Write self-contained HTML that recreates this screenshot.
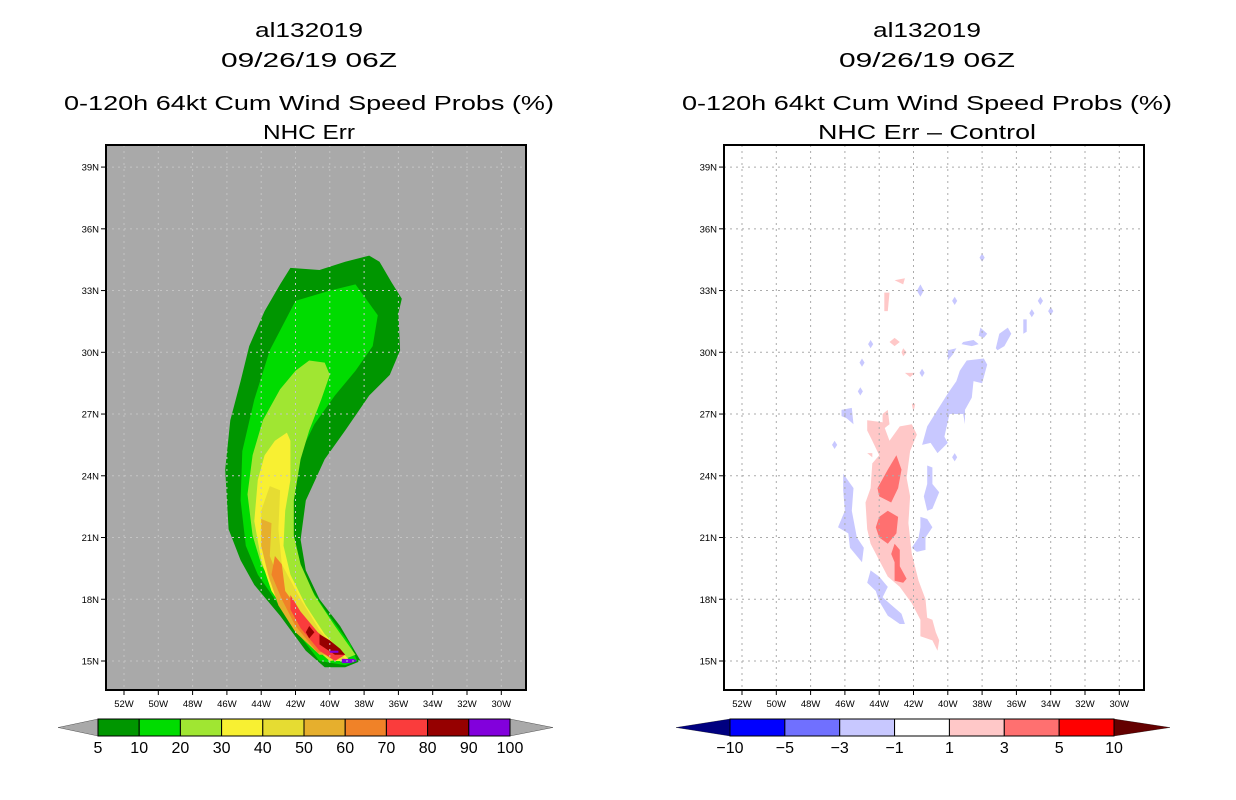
<!DOCTYPE html>
<html><head><meta charset="utf-8"><style>
html,body{margin:0;padding:0;background:#fff;}
svg{display:block;font-family:"Liberation Sans",sans-serif;}
</style></head><body>
<svg id="s" width="1236" height="800" viewBox="0 0 1236 800" xmlns="http://www.w3.org/2000/svg"></svg>
<script>
// ---- data ----
const lonTicks=[52,50,48,46,44,42,40,38,36,34,32,30];
const latTicks=[39,36,33,30,27,24,21,18,15];
const leftLevels=["5","10","20","30","40","50","60","70","80","90","100"];
const leftColors=["#009600","#00dc00","#a0e632","#f8f032","#e6dc32","#e6af2d","#f08228","#fa3c3c","#960000","#8200dc"];
const rightLevels=["-10","-5","-3","-1","1","3","5","10"];
const rightColors=["#0000ff","#7070ff","#c8c8ff","#ffffff","#ffc8c8","#ff7070","#ff0000"];
// probability contours [lonW,lat]
const p5=[[42.3,34.1],[40.6,34.0],[39.1,34.4],[37.7,34.7],[37.1,34.4],[36.4,33.4],[35.8,32.6],[36.0,31.9],[35.9,30.1],[36.5,28.9],[37.7,27.9],[39.1,26.2],[40.3,24.8],[41.4,22.8],[41.7,20.9],[41.4,19.4],[40.6,18.0],[39.4,16.7],[38.2,15.0],[39.1,14.7],[40.3,14.7],[41.4,15.5],[42.9,17.2],[44.4,18.7],[45.2,19.9],[45.9,21.4],[46.1,24.3],[45.8,26.7],[45.2,28.6],[44.7,30.3],[43.8,32.0],[42.9,33.3]];
const p10=[[42.0,32.5],[40.0,33.0],[38.5,33.3],[37.2,31.8],[37.5,30.3],[38.5,29.1],[39.7,27.9],[40.9,26.5],[41.9,24.8],[42.4,22.8],[42.2,20.9],[41.4,18.9],[40.3,17.5],[38.8,15.8],[38.4,15.0],[39.1,14.8],[40.6,15.0],[42.0,16.5],[43.2,18.0],[44.2,19.2],[44.9,20.6],[45.2,22.8],[45.1,25.2],[44.4,27.7],[43.5,30.1]];
const p20=[[41.2,29.6],[40.3,29.5],[40.0,28.9],[40.5,27.7],[41.2,26.2],[41.7,24.8],[42.1,22.8],[42.1,21.1],[41.7,19.7],[40.9,18.2],[39.7,16.7],[38.5,15.3],[39.4,15.0],[40.9,15.8],[42.0,17.0],[43.0,18.2],[44.0,19.7],[44.5,21.1],[44.8,23.1],[44.5,25.0],[43.9,26.7],[42.9,28.2],[42.0,29.1]];
const p30=[[42.5,26.1],[42.3,25.7],[42.3,23.8],[42.6,22.3],[42.7,20.6],[42.3,19.2],[41.4,17.7],[40.3,16.3],[38.8,15.0],[39.7,15.0],[41.2,15.8],[42.3,17.0],[43.4,18.4],[44.0,19.9],[44.4,21.8],[44.2,23.8],[43.8,25.0],[43.2,25.7]];
const p40=[[43.5,23.5],[42.9,23.3],[43.0,21.4],[42.8,19.7],[41.7,18.0],[40.6,16.5],[39.1,15.1],[40.0,15.0],[41.4,16.0],[42.6,17.4],[43.5,18.9],[44.0,20.6],[44.0,22.3]];
const p50=[[44.0,21.9],[43.4,21.7],[43.5,20.1],[42.7,18.4],[41.4,16.7],[39.7,15.3],[40.6,15.3],[42.0,16.4],[43.0,17.7],[43.6,19.2],[44.0,20.6]];
const p60=[[43.2,20.1],[42.8,19.7],[42.6,18.4],[41.4,17.0],[40.0,15.5],[40.7,15.4],[42.0,16.7],[42.8,18.0],[43.4,19.2]];
const p70=[[42.3,18.2],[41.7,17.4],[40.7,16.4],[39.1,15.3],[39.7,15.0],[40.6,15.5],[41.7,16.6],[42.3,17.5]];
const p80a=[[41.2,16.7],[40.9,16.4],[41.2,16.1],[41.4,16.4]];
const p80b=[[40.6,16.3],[40.0,16.0],[39.4,15.6],[39.1,15.3],[39.7,15.3],[40.6,15.8]];
const p90a=[[39.3,15.1],[38.6,15.1],[38.4,15.0],[38.8,14.9],[39.3,14.9]];
const p90b=[[40.0,15.5],[39.5,15.5],[39.5,15.4],[40.0,15.4]];
// difference contours
const dPink1=[[44.7,26.7],[43.8,26.6],[43.4,25.7],[42.8,26.4],[42.1,26.5],[41.8,26.0],[42.2,25.2],[42.4,23.9],[42.2,23.0],[42.3,21.7],[42.1,20.2],[41.7,18.9],[41.3,18.0],[41.2,17.1],[40.9,17.0],[40.7,16.4],[40.5,16.0],[40.6,15.5],[40.9,16.0],[41.6,16.2],[41.6,17.0],[42.1,17.8],[42.8,18.6],[43.5,19.1],[44.0,19.9],[44.5,20.7],[44.7,21.4],[44.8,22.7],[44.5,23.4],[44.4,24.6],[44.0,25.0],[44.4,25.7],[44.7,26.2]];
const dPinkSmall=[
[[43.1,33.5],[42.5,33.6],[42.6,33.3]],
[[43.7,32.9],[43.4,32.9],[43.5,32.0],[43.7,32.0]],
[[43.1,30.7],[42.8,30.5],[43.1,30.3],[43.4,30.5]],
[[42.6,30.2],[42.4,30.0],[42.6,29.8],[42.7,30.0]],
[[42.5,29.0],[41.9,29.0],[42.2,28.8]],
[[43.8,27.0],[43.5,27.2],[43.4,26.5],[43.7,26.3],[43.8,26.5]],
[[42.1,27.5],[41.9,27.5],[42.0,27.1]],
[[44.7,25.1],[44.4,25.1],[44.4,24.9]]];
const dRed=[
[[43.0,25.0],[42.7,24.3],[42.9,23.4],[43.3,22.7],[44.0,23.0],[44.1,23.4],[43.5,24.3]],
[[43.5,22.3],[42.9,22.0],[43.0,21.2],[43.5,20.7],[44.0,21.0],[44.2,21.5],[44.0,22.0]],
[[43.1,20.7],[42.8,20.4],[42.8,19.6],[42.4,19.0],[42.6,18.8],[43.1,18.9],[43.1,19.8],[43.3,20.2]]];
const dBlue=[
[[38.9,29.6],[37.9,29.7],[37.7,29.4],[38.0,28.5],[38.5,28.6],[38.6,27.8],[39.0,27.2],[39.0,26.5],[39.1,27.0],[39.9,27.0],[40.2,25.9],[40.0,25.6],[40.6,25.1],[41.0,25.6],[41.5,25.5],[41.2,26.4],[40.6,27.2],[40.0,28.0],[39.5,28.6],[39.3,29.1]],
[[46.1,24.1],[45.5,23.4],[45.6,22.3],[45.3,21.0],[44.9,20.5],[45.0,19.8],[45.7,20.5],[45.8,21.2],[46.4,21.5],[46.0,22.3],[46.1,23.3]],
[[44.5,19.4],[44.0,19.1],[43.5,18.6],[43.8,18.1],[43.4,17.8],[42.7,17.3],[42.5,16.8],[42.8,16.8],[43.5,17.2],[44.0,17.9],[44.2,18.4],[44.7,18.8]],
[[41.2,24.5],[40.9,24.4],[40.9,23.6],[40.5,23.2],[40.9,22.4],[41.2,22.3],[41.4,23.0],[41.2,23.6]],
[[41.6,22.0],[41.2,21.9],[40.9,21.5],[41.3,21.0],[41.3,20.4],[41.8,20.3],[42.1,20.5],[41.7,21.0],[41.6,21.5]],
[[37.0,30.9],[36.5,31.2],[36.3,30.9],[36.7,30.3],[37.1,30.1],[37.2,30.2]],
[[38.1,31.2],[37.7,30.9],[37.9,30.7],[38.2,30.8]],
[[39.1,30.5],[38.5,30.6],[38.2,30.4],[38.6,30.3],[39.2,30.4]],
[[35.6,31.6],[35.4,31.6],[35.4,31.0],[35.6,30.9]],
[[40.0,30.1],[39.5,30.2],[39.7,29.9],[40.0,29.6]],
[[46.2,27.2],[45.6,27.3],[45.5,26.5],[45.9,26.8],[46.2,26.9]],
[[41.6,33.3],[41.4,33.0],[41.6,32.7],[41.8,33.0]]];
const dBlueDots=[[39.6,32.5],[34.6,32.5],[35.1,31.9],[34.0,32.0],[44.5,30.4],[45.0,29.5],[45.1,28.1],[41.5,29.0],[39.6,24.9],[46.6,25.5],[38.0,34.6]];

// ---- drawing ----
const NS="http://www.w3.org/2000/svg";
const svg=document.getElementById('s');
function mk(tag,attrs,parent){const e=document.createElementNS(NS,tag);for(const k in attrs)e.setAttribute(k,attrs[k]);(parent||svg).appendChild(e);return e;}
const Y0=145,Y1=690;
function yS(lat){return 661-(lat-15)*20.58;}
function makeX(x52){return lon=>x52+(52-lon)*17.15;}
const panels=[{x0:106,x1:526,xs:makeX(124),bg:"#a9a9a9",grid:"#c4c4c4",cx:309,sub:"NHC Err",subw:92,name:"left"},
              {x0:724,x1:1144,xs:makeX(742),bg:"#ffffff",grid:"#ababab",cx:927,sub:"NHC Err \u2013 Control",subw:218,name:"right"}];
function pts(arr,xs){return arr.map(p=>xs(p[0]).toFixed(1)+","+yS(p[1]).toFixed(1)).join(" ");}
function title(t,x,y,w,nm){const e=mk('text',{x:x,y:y,'text-anchor':'middle','font-size':20,fill:'#000'});if(w){e.setAttribute('textLength',w);e.setAttribute('lengthAdjust','spacingAndGlyphs');}e.textContent=t;

}
panels.forEach(P=>{
  title("al132019",P.cx,37,108,P.name+"-title-storm");
  title("09/26/19 06Z",P.cx,67,176,P.name+"-title-date");
  title("0-120h 64kt Cum Wind Speed Probs (%)",P.cx,110,490,P.name+"-title-product");
  title(P.sub,P.cx,139,P.subw,P.name+"-subtitle");
  const g=mk('g',{});
  
  
  mk('rect',{x:P.x0,y:Y0,width:P.x1-P.x0,height:Y1-Y0,fill:P.bg},g);
  const cg=mk('g',{},g);
  
  
  const xs=P.xs;
  function poly(arr,fill,nm){const e=mk('polygon',{points:pts(arr,xs),fill:fill},cg);
    
    }
  if(P.name==="left"){
    [[p5,0],[p10,1],[p20,2],[p30,3],[p40,4],[p50,5],[p60,6],[p70,7],[p80a,8],[p80b,8],[p90a,9],[p90b,9]].forEach(c=>poly(c[0],leftColors[c[1]],'prob-contour-'+leftLevels[c[1]]));
  } else {
    poly(dPink1,"#ffc8c8",'diff-contour-pos1');
    dPinkSmall.forEach(a=>poly(a,"#ffc8c8",'diff-contour-pos1'));
    dRed.forEach(a=>poly(a,"#ff7070",'diff-contour-pos3'));
    dBlue.forEach(a=>poly(a,"#c8c8ff",'diff-contour-neg1'));
    dBlueDots.forEach(d=>{const e=mk('polygon',{points:[[d[0]+0.15,d[1]],[d[0],d[1]+0.2],[d[0]-0.15,d[1]],[d[0],d[1]-0.2]].map(p=>xs(p[0]).toFixed(1)+","+yS(p[1]).toFixed(1)).join(" "),fill:"#c8c8ff"},cg);
      
      });
  }
  lonTicks.forEach(l=>{const x=xs(l);
    mk('line',{x1:x,y1:Y0,x2:x,y2:Y1,stroke:P.grid,'stroke-width':1,'stroke-dasharray':'2,4'},g);
    mk('line',{x1:x,y1:Y1,x2:x,y2:Y1+5,stroke:'#000'},g);
    const t=mk('text',{x:x,y:Y1+17,'text-anchor':'middle','font-size':9.5,fill:'#000'},g);t.textContent=l+"W";
    
    });
  latTicks.forEach(l=>{const y=yS(l);
    mk('line',{x1:P.x0,y1:y,x2:P.x1,y2:y,stroke:P.grid,'stroke-width':1,'stroke-dasharray':'2,4'},g);
    mk('line',{x1:P.x0-5,y1:y,x2:P.x0,y2:y,stroke:'#000'},g);
    const t=mk('text',{x:P.x0-7,y:y+3.5,'text-anchor':'end','font-size':9.5,fill:'#000'},g);t.textContent=l+"N";
    
    });
  mk('rect',{x:P.x0,y:Y0,width:P.x1-P.x0,height:Y1-Y0,fill:'none',stroke:'#000','stroke-width':2},g);
});
// colorbars
function colorbar(nm,x0,x1,y0,y1,tl,tr,cl,cr,colors,labels,lw){
  const g=mk('g',{});
  
  
  const ym=(y0+y1)/2,w=(x1-x0)/colors.length;
  mk('polygon',{points:`${tl},${ym} ${x0},${y0} ${x0},${y1}`,fill:cl,stroke:'#000','stroke-width':0.3},g);
  mk('polygon',{points:`${tr},${ym} ${x1},${y0} ${x1},${y1}`,fill:cr,stroke:'#000','stroke-width':0.3},g);
  colors.forEach((c,i)=>{const r=mk('rect',{x:x0+i*w,y:y0,width:w,height:y1-y0,fill:c,stroke:'#000','stroke-width':1},g);
    
    });
  labels.forEach((l,i)=>{const t=mk('text',{x:x0+i*w,y:y1+17,'text-anchor':'middle','font-size':lw,fill:'#000'},g);t.textContent=l.replace('-','\u2212');
    
    });
}
colorbar('left-colorbar',98,510,719,736,58,553,'#a9a9a9','#a9a9a9',leftColors,leftLevels,16);
colorbar('right-colorbar',730,1114,719,736,676,1170,'#000080','#640000',rightColors,rightLevels,16);
</script>
</body></html>
